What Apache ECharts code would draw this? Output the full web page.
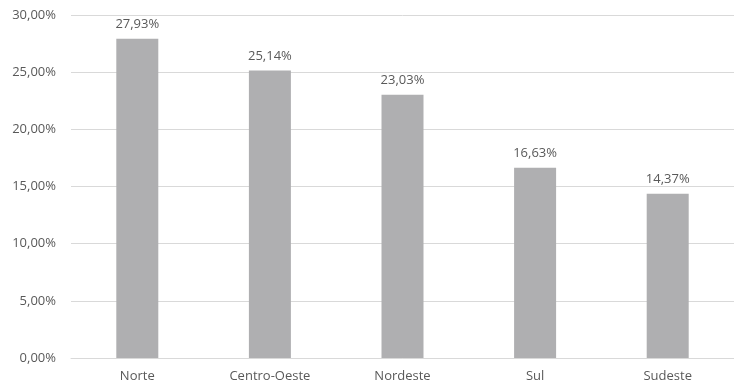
<!DOCTYPE html>
<html>
<head>
<meta charset="utf-8">
<script src="https://cdn.jsdelivr.net/npm/echarts@6/dist/echarts.min.js"></script>
<style>
  html, body { margin: 0; padding: 0; background: #fff; }
  #chart { width: 734px; height: 384px; }
</style>
</head>
<body>
<div id="chart"></div>
<script>
var regioes = ['Norte', 'Centro-Oeste', 'Nordeste', 'Sul', 'Sudeste'];
var percentuais = [27.93, 25.14, 23.03, 16.63, 14.37];

function pct(v) {
    return Number(v).toFixed(2).replace('.', ',') + '%';
}

var myChart = echarts.init(document.getElementById('chart'));
myChart.setOption({
    animation: false,
    textStyle: { fontFamily: 'Open Sans, sans-serif' },
    grid: { left: 71, top: 15, width: 670, bottom: 26 },
    xAxis: {
        type: 'category',
        data: regioes,
        axisLine: { lineStyle: { color: '#d9d9d9' } },
        axisTick: { show: false },
        axisLabel: { color: '#595959', fontSize: 13, margin: 12 }
    },
    yAxis: {
        type: 'value',
        min: 0,
        max: 30,
        interval: 5,
        axisLine: { show: false },
        axisTick: { show: false },
        splitLine: { lineStyle: { color: '#d9d9d9' } },
        axisLabel: {
            color: '#595959',
            fontSize: 13,
            margin: 15,
            formatter: pct
        }
    },
    series: [{
        type: 'bar',
        data: percentuais,
        barWidth: 42,
        itemStyle: { color: '#afafb1' },
        label: {
            show: true,
            position: 'top',
            distance: 8,
            color: '#595959',
            fontSize: 13,
            formatter: function (p) { return pct(p.value); }
        }
    }]
});
</script>
</body>
</html>
